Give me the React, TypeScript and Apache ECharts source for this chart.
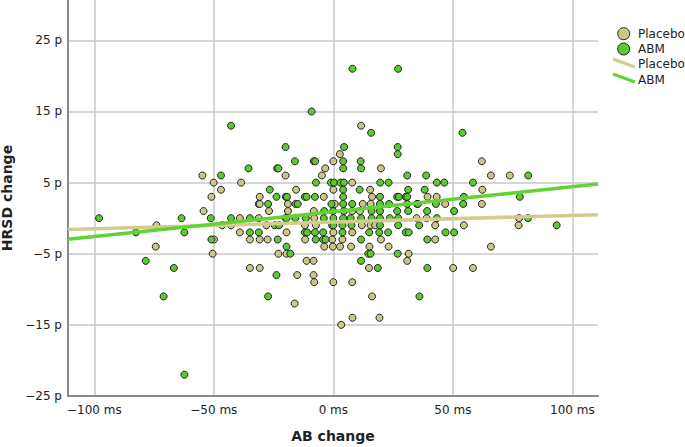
import React, { useEffect, useRef } from "react";
import * as echarts from "echarts";

const xTicks = [-100, -50, 0, 50, 100];
const yTicks = [-25, -15, -5, 5, 15, 25];
const xRange = [-111, 110.7];
const yRange = [-25, 30.67];

const placeboPoints = [
  [11.6,13],[2.7,9],[0,8],[62.1,8],[-3.4,7],[19.9,7],[-54.8,6],[-20,6],[-4.8,6],[65.9,6],[73.8,6],
  [-50.1,5],[-38.6,5],[7.9,5],[-47,4],[-15.6,4],[0,4],[15.4,4],[62.3,4],
  [-51,3],[-30.8,3],[-4,3],[16.2,3],[39.4,3],[43.2,3],
  [-31.2,2],[-30.8,2],[-19,2],[0.6,2],[12.3,2],[15.6,2],[35,2],[46.8,2],[62.1,2],
  [-54.3,1],[-26.9,1],[-19,1],[-8.2,1],[7.9,1],[11.1,1],
  [-39.1,0],[-31.2,0],[-20,0],[-8,0],[34.8,0],[39,0],[77.7,0],
  [-74,-1],[-46.5,-1],[-42.8,-1],[-28,-1],[-11.9,-1],[-7.3,-1],[-0.5,-1],[11.9,-1],[15.6,-1],[17.5,-1],[42.6,-1],[54.6,-1],[77.5,-1],
  [-39.1,-2],[-19.6,-2],[0,-2],[7.9,-2],
  [-49.9,-3],[-34.9,-3],[-30.8,-3],[-27.5,-3],[-11.8,-3],[-0.5,-3],[3.8,-3],[19.9,-3],[42.6,-3],
  [-74.3,-4],[-3.8,-4],[-0.2,-4],[2.8,-4],[7.4,-4],[15.1,-4],[23.1,-4],[65.9,-4],
  [-50.5,-5],[-23,-5],[-19.6,-5],[31.5,-5],
  [-11.2,-6],[-8.3,-6],[30.9,-6],
  [-34.9,-7],[-30.8,-7],[14.9,-7],[50.1,-7],[58.4,-7],
  [-15.1,-8],[-8.3,-8],[-8,-9],[0,-9],[7.9,-9],
  [16.2,-11],[-16.2,-12],[8,-14],[19.3,-14],[3.3,-15],
];

const abmPoints = [
  [8,21],[27.1,21],[-9.1,15],[-42.8,13],[15.8,12],[54,12],[-20,10],[4.5,10],[26.9,10],[26.9,9],
  [-16.1,8],[-8.2,8],[-7.6,8],[4.1,8],[11.4,8],
  [-35.5,7],[-23.5,7],[-23,7],[4.1,7],[11.6,7],
  [-47,6],[30.9,6],[38.8,6],[81.5,6],
  [-7.3,5],[-1,5],[0.3,5],[3,5],[4.4,5],[19.6,5],[23.1,5],[43.3,5],[46.4,5],[58.4,5],
  [-26.6,4],[4.1,4],[11,4],[31.3,4],[38.2,4],
  [-23.8,3],[-19.9,3],[-19.4,3],[-11.9,3],[-11.2,3],[-7.7,3],[4.1,3],[19.5,3],[26.7,3],[27.4,3],[30.3,3],[30.9,3],[54.6,3],[78,3],
  [-27.3,2],[-15.8,2],[-14.9,2],[-0.8,2],[4.1,2],[7.9,2],[19.5,2],[23.3,2],[30.9,2],[35.4,2],[42.9,2],[54.3,2],
  [-3.8,1],[-0.1,1],[4.4,1],[16,1],[19.5,1],[26.7,1],[31.3,1],[39.2,1],[50.5,1],
  [-98,0],[-63.5,0],[-51.3,0],[-42.8,0],[-34.9,0],[-19.6,0],[-15.9,0],[-11.5,0],[-4,0],[0,0],[4.1,0],[7.2,0],[11.6,0],[16,0],[19.5,0],[23.6,0],[27.1,0],[43.3,0],[81.4,0],
  [-24.5,-1],[-22.7,-1],[0,-1],[3.8,-1],[7.6,-1],[19.5,-1],[27.1,-1],[35.9,-1],[93.4,-1],
  [-82.6,-2],[-62.3,-2],[-34.9,-2],[-31.2,-2],[-11.9,-2],[-11,-2],[-7.7,-2],[-4.3,-2],[3.8,-2],[15,-2],[19.2,-2],[22.9,-2],[30.3,-2],[31.5,-2],[46.9,-2],[50.5,-2],
  [-51,-3],[-23.3,-3],[-7.4,-3],[-4.3,-3],[-3.3,-3],[11.6,-3],[39.3,-3],
  [-19.6,-4],[-18,-5],[14.6,-5],[15.6,-5],[26.9,-5],
  [-78.5,-6],[11.6,-6],[-66.7,-7],[18.6,-7],[39.3,-7],[-23.8,-8],
  [-71,-11],[-27.3,-11],[36,-11],[-62.3,-22],
];

const placeboFit = [[-111,-1.58],[110.7,0.49]];
const abmFit = [[-111,-2.98],[110.7,4.8]];

const PLACEBO = "#cdc687";
const ABM = "#5cc92e";
const FONT = "DejaVu Sans";
const TEXT = "#222222";

function legendRow(label: string, y: number) {
  return { type: "text", x: 638, y, style: { text: label, fill: TEXT, font: `12px "${FONT}"`, textVerticalAlign: "middle" } };
}

export default function App() {
  const ref = useRef<HTMLDivElement>(null);
  useEffect(() => {
    const chart = echarts.init(ref.current!, null, { renderer: "svg" });
    const minus = (v: number) => String(v).replace("-", "\u2212");
    chart.setOption({
      animation: false,
      backgroundColor: "#ffffff",
      grid: { left: 68, right: 87, top: 0, bottom: 51, outerBoundsMode: "none" },
      xAxis: {
        type: "value", min: xRange[0], max: xRange[1],
        name: "AB change", nameLocation: "middle", nameGap: 33,
        nameTextStyle: { fontFamily: FONT, fontWeight: "bold", fontSize: 14, color: TEXT },
        axisLine: { show: true, onZero: false, lineStyle: { color: "#8a8a8a", width: 2 } },
        axisTick: { show: false, customValues: xTicks },
        axisLabel: { customValues: xTicks, formatter: (v: number) => `${minus(v)} ms`, fontFamily: FONT, fontSize: 12, color: TEXT, margin: 8, hideOverlap: false },
        splitLine: { show: true, lineStyle: { color: "#c9c9c9", width: 1.5 } },
      },
      yAxis: {
        type: "value", min: yRange[0], max: yRange[1],
        name: "HRSD change", nameLocation: "middle", nameGap: 54,
        nameTextStyle: { fontFamily: FONT, fontWeight: "bold", fontSize: 14, color: TEXT },
        axisLine: { show: true, onZero: false, lineStyle: { color: "#8a8a8a", width: 2 } },
        axisTick: { show: false, customValues: yTicks },
        axisLabel: { customValues: yTicks, formatter: (v: number) => `${minus(v)} p`, fontFamily: FONT, fontSize: 12, color: TEXT, margin: 6 },
        splitLine: { show: true, lineStyle: { color: "#c9c9c9", width: 1.5 } },
      },
      series: [
        { name: "Placebo", type: "scatter", data: placeboPoints, symbolSize: 7, z: 2, itemStyle: { color: PLACEBO, borderColor: "#222222", borderWidth: 1, opacity: 1 } },
        { name: "ABM", type: "scatter", data: abmPoints, symbolSize: 7, z: 3, itemStyle: { color: ABM, borderColor: "#222222", borderWidth: 1, opacity: 1 } },
        { name: "Placebo fit", type: "line", data: placeboFit, showSymbol: false, symbol: "none", z: 4, lineStyle: { color: "#d2cc8e", width: 3.5 } },
        { name: "ABM fit", type: "line", data: abmFit, showSymbol: false, symbol: "none", z: 5, lineStyle: { color: "#62d335", width: 3.5 } },
      ],
      graphic: [
        { type: "circle", shape: { cx: 623.7, cy: 33.7, r: 6 }, style: { fill: PLACEBO, stroke: "#222222", lineWidth: 1 } },
        { type: "circle", shape: { cx: 623.7, cy: 49, r: 6 }, style: { fill: ABM, stroke: "#222222", lineWidth: 1 } },
        { type: "line", shape: { x1: 613, y1: 59, x2: 635, y2: 67 }, style: { stroke: "#d2cc8e", lineWidth: 3 } },
        { type: "line", shape: { x1: 613, y1: 74, x2: 635, y2: 82 }, style: { stroke: "#62d335", lineWidth: 3 } },
        legendRow("Placebo", 34),
        legendRow("ABM", 49),
        legendRow("Placebo", 64),
        legendRow("ABM", 80),
      ],
    });
    return () => chart.dispose();
  }, []);
  return <div ref={ref} style={{ position: "absolute", left: 0, top: 0, width: 685, height: 447 }} />;
}
